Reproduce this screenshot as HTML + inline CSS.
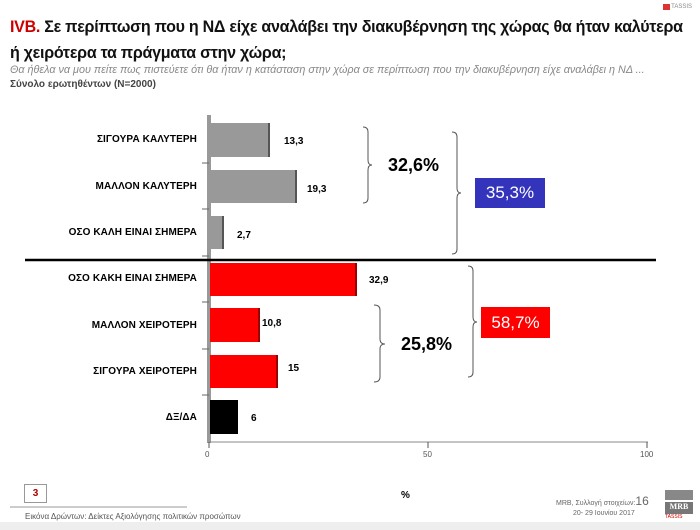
<!DOCTYPE html>
<html><head><meta charset="utf-8"><style>
body{margin:0;width:700px;height:530px;background:#fff;overflow:hidden;position:relative;font-family:"Liberation Sans","DejaVu Sans",sans-serif}
.a{position:absolute;white-space:nowrap}
.t{font-size:17px;font-weight:bold;color:#111;left:10px;letter-spacing:-0.3px;transform:scaleX(0.945);transform-origin:0 0}
.c{font-size:10px;font-weight:bold;right:503px;text-align:right;color:#000;letter-spacing:0.1px}
.v{font-size:10px;font-weight:bold;color:#000}
</style></head><body>
<div class="a" style="right:8px;top:3px;font-size:6px;color:#888"><span style="background:#d33;color:#d33">▮▮</span> TASSIS</div>
<div class="a t" style="top:17px"><span style="color:#c00">IVB.</span> Σε περίπτωση που η ΝΔ είχε αναλάβει την διακυβέρνηση της χώρας θα ήταν καλύτερα</div>
<div class="a t" style="top:43px">ή χειρότερα τα πράγματα στην χώρα;</div>
<div class="a" style="left:10px;top:64px;font-size:10.8px;font-style:italic;color:#888">Θα ήθελα να μου πείτε πως πιστεύετε ότι θα ήταν η κατάσταση στην χώρα σε περίπτωση που την διακυβέρνηση είχε αναλάβει η ΝΔ ...</div>
<div class="a" style="left:10px;top:79px;font-size:10px;font-weight:bold;color:#444">Σύνολο ερωτηθέντων (N=2000)</div>

<svg class="a" style="left:0;top:0" width="700" height="530">
<rect x="207" y="115" width="4" height="328" fill="#999"/>
<g stroke="#666" stroke-width="1">
<line x1="202" y1="163" x2="209" y2="163"/><line x1="202" y1="209" x2="209" y2="209"/><line x1="202" y1="256" x2="209" y2="256"/><line x1="202" y1="302" x2="209" y2="302"/><line x1="202" y1="349" x2="209" y2="349"/><line x1="202" y1="395" x2="209" y2="395"/>
</g>
<line x1="209" y1="442" x2="648" y2="442" stroke="#888"/>
<g stroke="#555"><line x1="209" y1="442" x2="209" y2="448"/><line x1="428" y1="442" x2="428" y2="448"/><line x1="647" y1="442" x2="647" y2="448"/></g>
<rect x="211" y="123" width="59" height="34" fill="#999"/><rect x="268" y="123" width="2" height="34" fill="#555"/>
<rect x="211" y="170" width="86" height="33" fill="#999"/><rect x="295" y="170" width="2" height="33" fill="#555"/>
<rect x="211" y="216" width="13" height="33" fill="#999"/><rect x="222" y="216" width="2" height="33" fill="#555"/>
<rect x="210" y="263" width="147" height="33" fill="#f00"/><rect x="355" y="263" width="2" height="33" fill="#900"/>
<rect x="210" y="308" width="50" height="34" fill="#f00"/><rect x="258" y="308" width="2" height="34" fill="#900"/>
<rect x="210" y="355" width="68" height="33" fill="#f00"/><rect x="276" y="355" width="2" height="33" fill="#900"/>
<rect x="210" y="400" width="28" height="34" fill="#000"/>
<line x1="25" y1="260" x2="656" y2="260" stroke="#000" stroke-width="2.5"/>
<g fill="none" stroke="#555" stroke-width="1">
<path d="M363 127 Q368 127 368 132 V160 Q368 165 372 165 Q368 165 368 170 V198 Q368 203 363 203"/>
<path d="M452 132 Q457 132 457 137 V188 Q457 193 461 193 Q457 193 457 198 V249 Q457 254 452 254"/>
<path d="M468 266 Q473 266 473 271 V317 Q473 322 477 322 Q473 322 473 327 V372 Q473 377 468 377"/>
<path d="M374 305 Q380 305 380 310 V339 Q380 344 385 344 Q380 344 380 349 V377 Q380 382 374 382"/>
</g>
<line x1="10" y1="507" x2="187" y2="507" stroke="#999"/>
<rect x="0" y="522" width="700" height="8" fill="#eee"/>
<rect x="665" y="490" width="28" height="10" fill="#888"/>
</svg>

<div class="a c" style="top:134px">ΣΙΓΟΥΡΑ ΚΑΛΥΤΕΡΗ</div>
<div class="a c" style="top:181px">ΜΑΛΛΟΝ ΚΑΛΥΤΕΡΗ</div>
<div class="a c" style="top:227px">ΟΣΟ ΚΑΛΗ ΕΙΝΑΙ ΣΗΜΕΡΑ</div>
<div class="a c" style="top:273px">ΟΣΟ ΚΑΚΗ ΕΙΝΑΙ ΣΗΜΕΡΑ</div>
<div class="a c" style="top:320px">ΜΑΛΛΟΝ ΧΕΙΡΟΤΕΡΗ</div>
<div class="a c" style="top:366px">ΣΙΓΟΥΡΑ ΧΕΙΡΟΤΕΡΗ</div>
<div class="a c" style="top:412px">ΔΞ/ΔΑ</div>

<div class="a v" style="left:284px;top:136px">13,3</div>
<div class="a v" style="left:307px;top:184px">19,3</div>
<div class="a v" style="left:237px;top:230px">2,7</div>
<div class="a v" style="left:369px;top:275px">32,9</div>
<div class="a v" style="left:262px;top:318px">10,8</div>
<div class="a v" style="left:288px;top:363px">15</div>
<div class="a v" style="left:251px;top:413px">6</div>

<div class="a" style="left:388px;top:155px;font-size:18px;font-weight:bold">32,6%</div>
<div class="a" style="left:401px;top:334px;font-size:18px;font-weight:bold">25,8%</div>
<div class="a" style="left:475px;top:178px;width:70px;height:30px;background:#3333bb;color:#fff;font-size:17px;text-align:center;line-height:30px">35,3%</div>
<div class="a" style="left:481px;top:307px;width:69px;height:31px;background:#f00;color:#fff;font-size:17px;text-align:center;line-height:31px">58,7%</div>

<div class="a" style="left:205px;top:450px;font-size:8px;color:#555">0</div>
<div class="a" style="left:423px;top:450px;font-size:8px;color:#555">50</div>
<div class="a" style="left:640px;top:450px;font-size:8px;color:#555">100</div>
<div class="a" style="left:401px;top:490px;font-size:10px;font-weight:bold">%</div>

<div class="a" style="left:24px;top:484px;width:21px;height:17px;border:1px solid #999;color:#a00;font-size:10px;font-weight:bold;text-align:center;line-height:17px">3</div>
<div class="a" style="left:25px;top:512px;font-size:8px;color:#555">Εικόνα Δρώντων: Δείκτες Αξιολόγησης πολιτικών προσώπων</div>
<div class="a" style="left:556px;top:494px;font-size:7px;color:#666">MRB, Συλλογή στοιχείων:<span style="font-size:12px">16</span></div>
<div class="a" style="left:573px;top:510px;font-size:7px;color:#666">20- 29 Ιουνίου 2017</div>
<div class="a" style="left:665px;top:502px;width:28px;height:12px;background:#777;color:#fff;font-size:8px;font-weight:bold;text-align:center;font-family:'Liberation Serif',serif">MRB</div>
<div class="a" style="left:665px;top:514px;font-size:5px;color:#c00">TASSIS</div>
</body></html>
